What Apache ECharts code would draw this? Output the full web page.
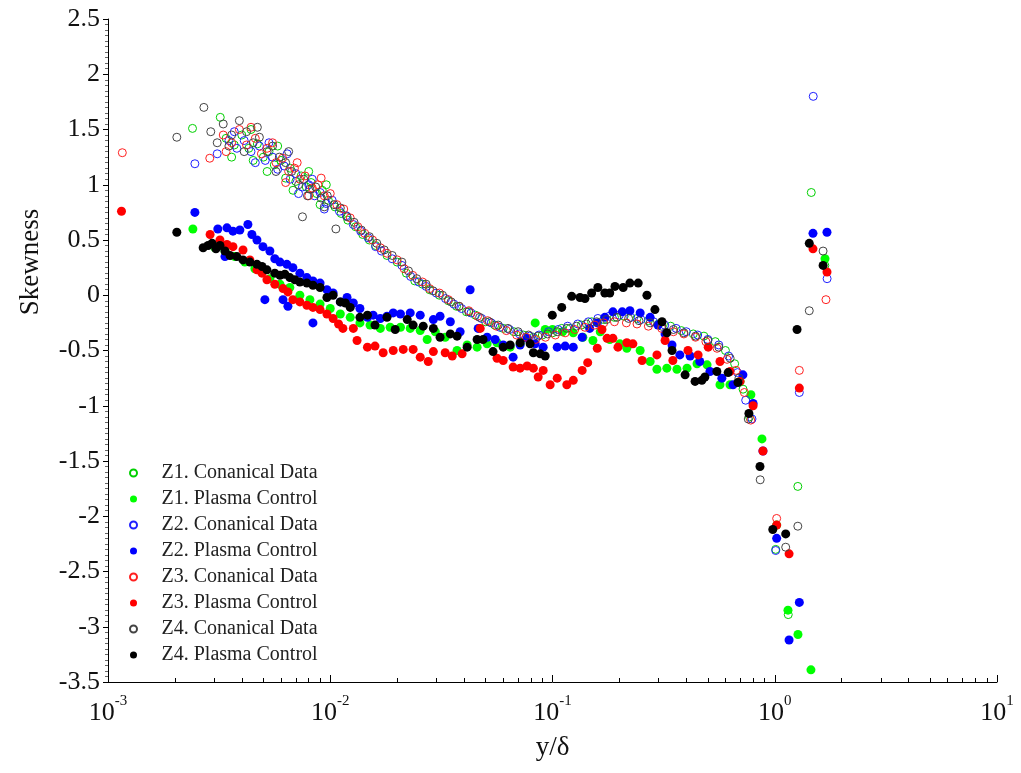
<!DOCTYPE html>
<html>
<head>
<meta charset="utf-8">
<script src="https://cdn.jsdelivr.net/npm/echarts@6/dist/echarts.min.js"></script>
<style>
html,body{margin:0;padding:0;background:#fff;}
#chart{width:1021px;height:773px;}
</style>
</head>
<body>
<div id="chart"></div>
<script>
// [y/delta, skewness]
var z1Canonical = [[0.0024,1.51],[0.0032,1.61],[0.0034,1.42],[0.0036,1.25],[0.0037,1.36],[0.0040,1.45],[0.0043,1.33],[0.0044,1.50],[0.0045,1.22],[0.0047,1.37],[0.0050,1.25],[0.0052,1.12],[0.0053,1.30],[0.0056,1.18],[0.0058,1.35],[0.0060,1.22],[0.0063,1.06],[0.0066,1.15],[0.0068,0.95],[0.0070,1.03],[0.0074,1.08],[0.0078,0.98],[0.0080,1.12],[0.0082,1.02],[0.0087,0.92],[0.0090,0.82],[0.0092,0.95],[0.0096,1.00],[0.0098,0.86],[0.0105,0.80],[0.0112,0.74],[0.012,0.68],[0.013,0.62],[0.014,0.55],[0.015,0.50],[0.016,0.45],[0.018,0.36],[0.020,0.30],[0.022,0.20],[0.024,0.13],[0.026,0.10],[0.028,0.05],[0.031,0.00],[0.034,-0.05],[0.037,-0.10],[0.041,-0.15],[0.045,-0.18],[0.050,-0.24],[0.055,-0.27],[0.060,-0.30],[0.067,-0.33],[0.074,-0.36],[0.082,-0.38],[0.090,-0.36],[0.10,-0.34],[0.11,-0.30],[0.12,-0.30],[0.135,-0.27],[0.15,-0.24],[0.17,-0.22],[0.19,-0.20],[0.21,-0.19],[0.24,-0.21],[0.27,-0.23],[0.30,-0.26],[0.34,-0.28],[0.38,-0.32],[0.43,-0.35],[0.48,-0.37],[0.54,-0.42],[0.60,-0.50],[0.66,-0.62],[0.72,-0.85],[0.77,-1.10],[1.01,-2.30],[1.15,-2.89],[1.27,-1.73],[1.46,0.93],[1.68,0.27]];
var z1Plasma = [[0.00241,0.60],[0.00303,0.43],[0.00336,0.40],[0.00372,0.35],[0.00413,0.30],[0.00458,0.24],[0.00493,0.21],[0.00535,0.15],[0.00594,0.10],[0.00658,0.07],[0.0073,0.00],[0.0081,-0.04],[0.0090,-0.08],[0.0100,-0.12],[0.0111,-0.17],[0.0123,-0.20],[0.0136,-0.25],[0.0151,-0.27],[0.0168,-0.30],[0.0186,-0.29],[0.0207,-0.29],[0.0229,-0.30],[0.0254,-0.32],[0.0273,-0.40],[0.0297,-0.33],[0.0329,-0.38],[0.0372,-0.50],[0.0413,-0.45],[0.0458,-0.47],[0.0508,-0.44],[0.0563,-0.43],[0.0645,-0.47],[0.0715,-0.44],[0.0836,-0.25],[0.0927,-0.31],[0.100,-0.31],[0.111,-0.33],[0.124,-0.34],[0.137,-0.38],[0.152,-0.41],[0.164,-0.33],[0.181,-0.40],[0.201,-0.44],[0.216,-0.48],[0.248,-0.50],[0.275,-0.60],[0.295,-0.67],[0.327,-0.66],[0.363,-0.67],[0.403,-0.66],[0.447,-0.62],[0.496,-0.63],[0.567,-0.81],[0.629,-0.81],[0.698,-0.78],[0.781,-0.90],[0.876,-1.30],[1.02,-2.08],[1.147,-2.85],[1.272,-3.07],[1.455,-3.39],[1.683,0.33]];
var z2Canonical = [[0.00246,1.19],[0.0031,1.28],[0.0035,1.40],[0.0037,1.48],[0.0038,1.33],[0.0041,1.40],[0.0044,1.30],[0.0046,1.20],[0.0048,1.35],[0.0051,1.22],[0.0053,1.38],[0.0055,1.25],[0.0058,1.14],[0.0062,1.17],[0.0064,1.28],[0.0066,1.05],[0.0070,1.10],[0.0072,0.92],[0.0075,0.98],[0.0080,1.00],[0.0083,1.05],[0.0085,0.90],[0.0090,0.93],[0.0094,0.78],[0.0096,0.83],[0.0102,0.86],[0.011,0.76],[0.0118,0.72],[0.0127,0.64],[0.0137,0.58],[0.0148,0.52],[0.016,0.44],[0.017,0.40],[0.019,0.33],[0.021,0.27],[0.023,0.17],[0.025,0.12],[0.027,0.08],[0.030,0.02],[0.033,-0.03],[0.036,-0.08],[0.039,-0.12],[0.043,-0.16],[0.048,-0.21],[0.053,-0.25],[0.058,-0.29],[0.064,-0.31],[0.071,-0.35],[0.079,-0.37],[0.087,-0.36],[0.096,-0.33],[0.106,-0.31],[0.117,-0.28],[0.13,-0.26],[0.145,-0.24],[0.16,-0.21],[0.18,-0.19],[0.20,-0.18],[0.225,-0.20],[0.25,-0.22],[0.285,-0.24],[0.32,-0.27],[0.36,-0.30],[0.40,-0.33],[0.45,-0.36],[0.50,-0.40],[0.56,-0.45],[0.62,-0.55],[0.68,-0.70],[0.74,-0.95],[0.79,-1.12],[1.01,-2.31],[1.29,-0.88],[1.49,1.80],[1.72,0.15]];
var z2Plasma = [[0.00246,0.75],[0.00312,0.60],[0.00336,0.35],[0.00343,0.61],[0.00365,0.58],[0.00392,0.59],[0.00426,0.64],[0.00444,0.55],[0.00468,0.50],[0.00498,0.44],[0.00508,-0.04],[0.00535,0.40],[0.00563,0.33],[0.00594,0.30],[0.00613,-0.04],[0.00638,0.28],[0.00645,-0.10],[0.00679,0.25],[0.0073,0.20],[0.00785,0.16],[0.00836,0.13],[0.00836,-0.25],[0.0090,0.11],[0.00966,0.05],[0.0103,0.02],[0.0111,-0.06],[0.0119,-0.02],[0.0127,-0.07],[0.0136,-0.12],[0.0147,-0.20],[0.0156,-0.18],[0.0168,-0.21],[0.0180,-0.19],[0.0192,-0.16],[0.0207,-0.17],[0.0229,-0.16],[0.0254,-0.18],[0.0291,-0.22],[0.0312,-0.19],[0.0347,-0.24],[0.0384,-0.33],[0.0426,0.05],[0.0463,-0.30],[0.0508,-0.38],[0.0552,-0.40],[0.060,-0.45],[0.0665,-0.56],[0.0715,-0.45],[0.0769,-0.39],[0.0836,-0.44],[0.0908,-0.47],[0.105,-0.47],[0.114,-0.46],[0.124,-0.47],[0.136,-0.38],[0.147,-0.30],[0.159,-0.25],[0.172,-0.20],[0.187,-0.15],[0.206,-0.15],[0.223,-0.14],[0.248,-0.16],[0.275,-0.20],[0.298,-0.27],[0.321,-0.35],[0.345,-0.45],[0.374,-0.54],[0.416,-0.55],[0.460,-0.60],[0.511,-0.69],[0.578,-0.75],[0.649,-0.81],[0.719,-0.72],[0.799,-0.98],[0.885,-1.41],[1.02,-2.20],[1.16,-3.12],[1.29,-2.78],[1.486,0.56],[1.718,0.57]];
var z3Canonical = [[0.00116,1.29],[0.00287,1.24],[0.0033,1.45],[0.0034,1.30],[0.0036,1.38],[0.0039,1.50],[0.0042,1.36],[0.0044,1.52],[0.0046,1.42],[0.0049,1.28],[0.0052,1.33],[0.0055,1.38],[0.0057,1.20],[0.0061,1.24],[0.0063,1.02],[0.0065,1.12],[0.0069,1.15],[0.0071,1.20],[0.0073,1.05],[0.0077,1.08],[0.0080,0.90],[0.0083,0.97],[0.0088,1.00],[0.0091,1.06],[0.0094,0.90],[0.0100,0.92],[0.0107,0.82],[0.0115,0.78],[0.0123,0.70],[0.0133,0.62],[0.0143,0.56],[0.0155,0.50],[0.0168,0.43],[0.018,0.38],[0.020,0.32],[0.0215,0.24],[0.0235,0.18],[0.026,0.12],[0.028,0.06],[0.031,0.02],[0.034,-0.04],[0.038,-0.10],[0.042,-0.14],[0.046,-0.19],[0.051,-0.23],[0.056,-0.28],[0.062,-0.32],[0.069,-0.36],[0.076,-0.38],[0.084,-0.40],[0.093,-0.38],[0.103,-0.36],[0.114,-0.34],[0.126,-0.31],[0.14,-0.29],[0.155,-0.27],[0.17,-0.25],[0.19,-0.24],[0.215,-0.25],[0.24,-0.26],[0.27,-0.28],[0.31,-0.30],[0.35,-0.33],[0.39,-0.35],[0.44,-0.38],[0.49,-0.42],[0.55,-0.48],[0.61,-0.58],[0.67,-0.68],[0.73,-0.88],[0.78,-1.13],[1.02,-2.02],[1.29,-0.68],[1.70,-0.04]];
var z3Plasma = [[0.00115,0.76],[0.00288,0.55],[0.00319,0.50],[0.00343,0.46],[0.00365,0.44],[0.00405,0.41],[0.00435,0.32],[0.00468,0.23],[0.00493,0.20],[0.00519,0.14],[0.00563,0.10],[0.00613,0.06],[0.00645,0.03],[0.00679,-0.04],[0.0073,-0.06],[0.00785,-0.09],[0.00836,-0.11],[0.0090,-0.13],[0.00966,-0.17],[0.0103,-0.21],[0.0109,-0.26],[0.0114,-0.30],[0.0127,-0.30],[0.0132,-0.41],[0.0147,-0.47],[0.0159,-0.46],[0.0173,-0.52],[0.0192,-0.50],[0.0213,-0.49],[0.0236,-0.49],[0.0254,-0.56],[0.0276,-0.60],[0.0291,-0.51],[0.0329,-0.52],[0.0354,-0.55],[0.0392,-0.53],[0.0473,-0.30],[0.0563,-0.57],[0.060,-0.59],[0.0665,-0.65],[0.0715,-0.66],[0.0769,-0.64],[0.082,-0.66],[0.0862,-0.74],[0.0908,-0.68],[0.0976,-0.81],[0.105,-0.75],[0.116,-0.81],[0.124,-0.77],[0.136,-0.68],[0.144,-0.61],[0.159,-0.48],[0.167,-0.31],[0.176,-0.39],[0.187,-0.39],[0.197,-0.47],[0.216,-0.43],[0.230,-0.44],[0.253,-0.59],[0.295,-0.54],[0.321,-0.41],[0.348,-0.59],[0.407,-0.50],[0.452,-0.54],[0.502,-0.47],[0.567,-0.60],[0.629,-0.69],[0.698,-0.78],[0.799,-1.00],[0.885,-1.41],[1.02,-2.08],[1.16,-2.34],[1.29,-0.84],[1.486,0.42],[1.718,0.21]];
var z4Canonical = [[0.00204,1.43],[0.0027,1.70],[0.0029,1.48],[0.0031,1.38],[0.0033,1.55],[0.0035,1.35],[0.0036,1.45],[0.0039,1.58],[0.0041,1.30],[0.0042,1.48],[0.0045,1.38],[0.0047,1.52],[0.0048,1.43],[0.0052,1.30],[0.0055,1.35],[0.0057,1.12],[0.0059,1.25],[0.0063,1.20],[0.0065,1.30],[0.0067,1.12],[0.0072,1.00],[0.0075,0.71],[0.0076,1.05],[0.0079,0.90],[0.0081,0.96],[0.0086,0.98],[0.0091,0.88],[0.0094,0.80],[0.0097,0.90],[0.0104,0.82],[0.0106,0.60],[0.0111,0.79],[0.0119,0.71],[0.0128,0.66],[0.0138,0.59],[0.0150,0.53],[0.0162,0.47],[0.0175,0.41],[0.019,0.36],[0.021,0.30],[0.0225,0.22],[0.0245,0.15],[0.027,0.10],[0.029,0.04],[0.032,0.00],[0.035,-0.06],[0.038,-0.10],[0.042,-0.15],[0.047,-0.20],[0.052,-0.24],[0.057,-0.27],[0.063,-0.30],[0.070,-0.33],[0.078,-0.36],[0.086,-0.37],[0.095,-0.35],[0.105,-0.33],[0.116,-0.30],[0.128,-0.28],[0.142,-0.26],[0.158,-0.24],[0.175,-0.22],[0.195,-0.20],[0.22,-0.21],[0.245,-0.23],[0.275,-0.25],[0.31,-0.28],[0.35,-0.31],[0.39,-0.34],[0.44,-0.37],[0.50,-0.41],[0.56,-0.47],[0.63,-0.57],[0.69,-0.75],[0.76,-1.12],[0.86,-1.67],[1.12,-2.28],[1.27,-2.09],[1.43,-0.14],[1.65,0.40]];
var z4Plasma = [[0.00204,0.57],[0.00268,0.43],[0.00282,0.45],[0.00294,0.47],[0.00306,0.42],[0.00319,0.45],[0.00336,0.40],[0.00354,0.36],[0.0038,0.35],[0.00405,0.32],[0.00435,0.30],[0.00468,0.28],[0.00493,0.26],[0.00519,0.23],[0.00563,0.20],[0.00594,0.18],[0.00625,0.19],[0.00658,0.16],[0.00693,0.14],[0.0073,0.12],[0.00785,0.11],[0.00836,0.09],[0.0090,0.07],[0.00966,-0.02],[0.0103,0.00],[0.0111,-0.06],[0.0117,-0.07],[0.0123,-0.11],[0.0136,-0.20],[0.0147,-0.18],[0.0159,-0.27],[0.0180,-0.20],[0.0196,-0.31],[0.0222,-0.22],[0.0236,-0.27],[0.0262,-0.28],[0.0291,-0.30],[0.0312,-0.38],[0.0347,-0.35],[0.0372,-0.37],[0.0413,-0.47],[0.0458,-0.40],[0.0487,-0.40],[0.054,-0.51],[0.060,-0.47],[0.0645,-0.45],[0.0715,-0.43],[0.0793,-0.44],[0.082,-0.52],[0.088,-0.53],[0.0927,-0.55],[0.0998,-0.18],[0.110,-0.11],[0.122,-0.01],[0.133,-0.02],[0.140,-0.03],[0.150,0.02],[0.160,0.07],[0.172,0.02],[0.181,0.02],[0.191,0.08],[0.208,0.07],[0.223,0.11],[0.243,0.11],[0.266,0.00],[0.289,-0.13],[0.311,-0.24],[0.327,-0.34],[0.345,-0.50],[0.395,-0.72],[0.438,-0.78],[0.470,-0.77],[0.485,-0.74],[0.549,-0.69],[0.617,-0.70],[0.683,-0.79],[0.765,-1.07],[0.858,-1.55],[0.98,-2.12],[1.12,-2.16],[1.26,-0.31],[1.43,0.47],[1.65,0.27]];

var seriesNames = ['Z1. Conanical Data','Z1. Plasma Control','Z2. Conanical Data','Z2. Plasma Control','Z3. Conanical Data','Z3. Plasma Control','Z4. Conanical Data','Z4. Plasma Control'];
var seriesData = [z1Canonical, z1Plasma, z2Canonical, z2Plasma, z3Canonical, z3Plasma, z4Canonical, z4Plasma];
var seriesColors = ['#00d000','#00ff00','#2020ff','#0000ff','#ff2020','#ff0000','#444444','#000000'];
var yTicks = [-3.5, 2.5, 0.5]; // min, max, step

// log minor ticks 2..9 in every decade
var xMinorTicks = [];
for (var e = -3; e < 1; e++) {
	for (var m = 2; m <= 9; m++) {
		xMinorTicks.push(+(m * Math.pow(10, e)).toPrecision(3));
	}
}

var serif = '"Liberation Serif","Times New Roman",serif';

var series = seriesData.map(function(d, i){
	var open = i % 2 == 0;
	return {
		name: seriesNames[i],
		type: 'scatter',
		data: d,
		symbol: 'circle',
		symbolSize: open ? 8 : 9,
		itemStyle: open ? {
			color: 'rgba(255,255,255,0)',
			borderColor: seriesColors[i],
			borderWidth: 1,
			opacity: 1
		} : {
			color: seriesColors[i],
			opacity: 1
		}
	};
});

var option = {
	animation: false,
	backgroundColor: '#fff',
	grid: { left: 108, right: 24, top: 19, bottom: 91 },
	legend: {
		orient: 'vertical',
		left: 124,
		top: 458,
		itemWidth: 46,
		itemHeight: 7,
		itemGap: 6,
		textStyle: { fontFamily: serif, fontSize: 20, color: '#222', lineHeight: 20 },
		data: seriesNames
	},
	xAxis: [{
		type: 'log',
		logBase: 10,
		min: 0.001,
		max: 10,
		name: 'y/δ',
		nameLocation: 'middle',
		nameGap: 52,
		nameTextStyle: { fontFamily: serif, fontSize: 27, color: '#111' },
		axisLine: { onZero: false, lineStyle: { color: '#000', width: 1 } },
		axisTick: { inside: true, length: 7, lineStyle: { color: '#000' } },
		splitLine: { show: false },
		axisLabel: {
			margin: 12,
			color: '#111',
			formatter: function(v){
				var p = Math.round(Math.log(v) / Math.LN10);
				return '{b|10}{s|' + p + '}';
			},
			rich: {
				b: { fontFamily: serif, fontSize: 26, lineHeight: 32, verticalAlign: 'bottom', color: '#111' },
				s: { fontFamily: serif, fontSize: 15, lineHeight: 32, verticalAlign: 'top', color: '#111' }
			}
		}
	}, {
		type: 'log',
		logBase: 10,
		min: 0.001,
		max: 10,
		position: 'bottom',
		axisLine: { show: false, onZero: false },
		axisLabel: { show: false },
		splitLine: { show: false },
		axisTick: { show: true, inside: true, length: 4, customValues: xMinorTicks, lineStyle: { color: '#000' } }
	}],
	yAxis: {
		type: 'value',
		min: yTicks[0],
		max: yTicks[1],
		interval: yTicks[2],
		axisLine: { show: true, lineStyle: { color: '#000', width: 1 } },
		axisTick: { show: true, length: 5, lineStyle: { color: '#000' } },
		minorTick: { show: true, splitNumber: 10, length: 3, lineStyle: { color: '#666' } },
		splitLine: { show: false },
		axisLabel: { margin: 8, fontFamily: serif, fontSize: 26, color: '#111' }
	},
	graphic: [{
		type: 'text',
		x: 31,
		y: 262,
		rotation: Math.PI / 2,
		style: {
			text: 'Skewness',
			font: '27px ' + serif,
			fill: '#111',
			align: 'center',
			verticalAlign: 'middle',
			textAlign: 'center',
			textVerticalAlign: 'middle'
		}
	}],
	series: series
};

var myChart = echarts.init(document.getElementById('chart'));
myChart.setOption(option);
</script>
</body>
</html>
